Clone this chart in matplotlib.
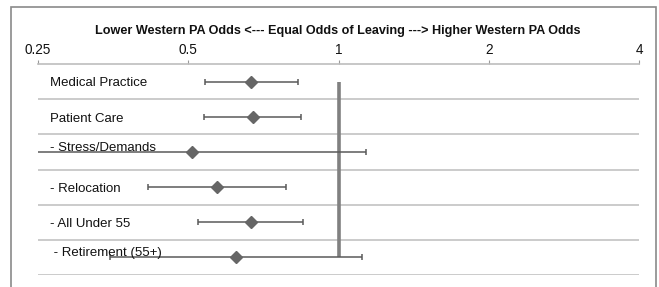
import matplotlib
matplotlib.use("Agg")
import matplotlib.pyplot as plt
from matplotlib.patches import Rectangle

plt.rcParams['font.family'] = ['Liberation Sans', 'DejaVu Sans']

# odds ratios (log2 x axis)
labels = ["Medical Practice", "Patient Care", "- Stress/Demands",
          "- Relocation", "- All Under 55", " - Retirement (55+)"]
odds = [0.669, 0.674, 0.509, 0.572, 0.669, 0.624]
ci_low = [0.541, 0.538, 0.24, 0.416, 0.524, 0.349]
ci_high = [0.828, 0.843, 1.133, 0.786, 0.85, 1.117]
xticks = [0.25, 0.5, 1, 2, 4]
xtick_labels = ["0.25", "0.5", "1", "2", "4"]
# labels of the wide rows sit a bit higher, as in the original
label_shift = [0.05, 0.05, -0.12, 0.05, 0.05, -0.12]

W, H = 659, 287
fig = plt.figure(figsize=(W / 100, H / 100), dpi=100)
ax = fig.add_axes([38 / W, 1 - 275 / H, (639 - 38) / W, (275 - 64) / H])

n = len(labels)
ax.set_xscale('log', base=2)
ax.set_xlim(0.25, 4)
ax.set_ylim(n - 0.5, -0.5)

# row separators
for i in range(n):
    ax.axhline(i + 0.5, color='#bdbdbd', lw=1.1, zorder=1)

# reference line at 1
ax.vlines(1, 0, n - 1, color='#808080', lw=2.6, zorder=2)

ys = list(range(n))
lo = [o - l for o, l in zip(odds, ci_low)]
hi = [h - o for o, h in zip(odds, ci_high)]
ax.errorbar(odds, ys, xerr=[lo, hi], fmt='D', color='#5a5a5a', ms=6,
            mfc='#666666', mec='#666666', ecolor='#5a5a5a', elinewidth=1.1,
            capsize=2.5, capthick=1.1, zorder=3, clip_on=True)

for i, lab in enumerate(labels):
    ax.text(0.264, i + label_shift[i], lab, fontsize=9.5, va='center', ha='left',
            color='#111111', zorder=4)

ax.set_xticks(xticks)
ax.set_xticklabels(xtick_labels)
ax.minorticks_off()
ax.xaxis.tick_top()
ax.tick_params(axis='x', direction='out', length=3, width=0.8, color='#999999',
               labelsize=9.8, pad=2, labelcolor='#111111')
ax.set_yticks([])
for side in ['left', 'right', 'bottom']:
    ax.spines[side].set_visible(False)
ax.spines['top'].set_color('#bdbdbd')
ax.spines['top'].set_linewidth(1.2)

fig.text(338 / W, 1 - 31 / H,
         "Lower Western PA Odds <--- Equal Odds of Leaving ---> Higher Western PA Odds",
         ha='center', va='center', fontsize=9.1, fontweight='bold', color='#111111')

# outer chart frame
fig.patches.append(Rectangle((11 / W, -0.1), (656 - 11) / W, 1.1 - 7 / H,
                             transform=fig.transFigure, fill=False,
                             edgecolor='#8a8a8a', lw=1.2))

fig.savefig("out.png", dpi=100)
